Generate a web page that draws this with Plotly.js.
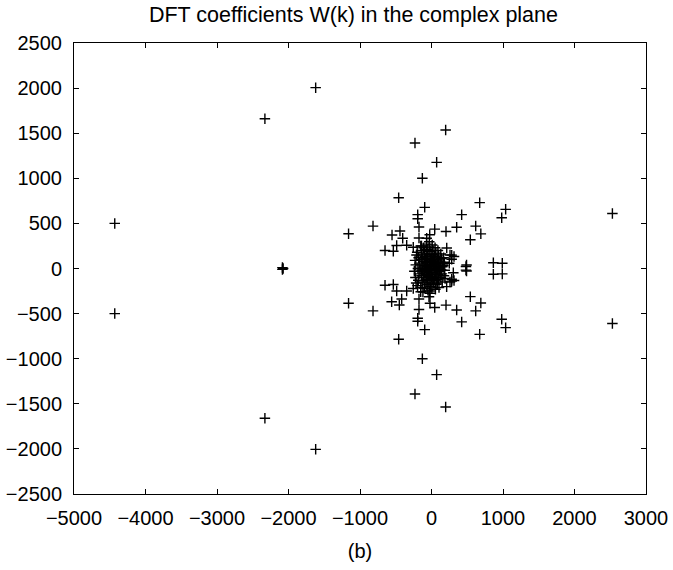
<!DOCTYPE html>
<html>
<head>
<meta charset="utf-8">
<script src="https://cdn.plot.ly/plotly-3.0.1.min.js"></script>
<style>html,body{margin:0;padding:0;background:#fff;}#chart{width:673px;height:570px;}</style>
</head>
<body>
<div id="chart"></div>
<script>
const realOuter = [-4430, -4430, -2330, -2330, -1620, -1620, -2085, -2085, -2075, -1160, -1160,
  2530, 2530, 1037, 1037, 982, 982, 865, 865, 990, 990,
  198, 198, -231, -231, 72, 72, -128, -128, -459, -459, 674, 674, -95, -95, 422, 422,
  -193, -193, -193, -193, -818, -818, -175, -175, 45, 45, 352, 352, 618, 618, 690, 690,
  203, 203, -552, -557, -441, -450, -403, -417, -175, -175, -25, -21, 543, 543,
  -487, -487, -347, -347, -650, -650, -534, -534, -255, -255, -140, -151, 213, 212,
  283, 315, 283, 315, 482, 482, 490, 490, -31, -21, -67, -35, 259, 282, 249, 305, 282, 259];
const imagOuter = [500, -500, 1660, -1660, 2005, -2005, 10, -10, 0, 385, -385,
  610, -610, 656, -656, 563, -563, 64, -64, 58, -60,
  1535, -1535, 1391, -1391, 1177, -1177, 1000, -1000, 785, -785, 730, -730, 678, -678, 597, -592,
  597, 552, -552, -585, 470, -470, 460, -455, 436, -432, 457, -460, 470, -470, 384, -382,
  410, -406, 371, -368, 415, -405, 336, -338, 338, -338, 375, -386, 318, -312,
  255, -250, 257, -250, 200, -185, 192, -178, 235, -222, 250, -257, 228, -201,
  148, 133, -140, -133, 22, -18, 39, -28, 297, -275, 335, -313, 150, 102, 58, -47, -120, -150];

const realCore = [-200, -180, -170, -190, -175, -185, -195,
  -150, -140, -135, -130, -145, -125, -140, -130, -150, -120,
  -110, -100, -95, -105, -90, -100, -95, -110, -90, -100,
  -70, -60, -65, -55, -75, -50, -60, -70, -55, -65, -50,
  -30, -20, -35, -15, -25, -10, -30, -20, -35, -15, -25,
  10, 20, 5, 25, 15, 30, 0, 20, 10, 25, 5,
  50, 60, 45, 65, 55, 70, 50, 60, 45, 65, 55,
  90, 100, 85, 105, 95, 110, 90, 100, 85, 105,
  130, 140, 125, 150, 135, 145, 130, 150,
  170, 180, 165, 185, 175, 190,
  -230, -220, -240, -225, -210, -215,
  -80, -40, 40, 80, -60, 60, -45, 35, -120, 120, 0, 0, -85, 75, -160, 160];
const imagCore = [180, 120, 60, 0, -60, -130, -190,
  250, 200, 150, 100, 40, -20, -80, -150, -210, -260,
  230, 170, 130, 80, 30, -10, -50, -100, -160, -220,
  270, 210, 160, 110, 70, 20, -30, -75, -120, -180, -240,
  240, 190, 140, 95, 45, 5, -45, -90, -135, -200, -250,
  260, 200, 155, 115, 70, 25, -20, -60, -110, -160, -215,
  230, 170, 130, 85, 40, -5, -40, -85, -130, -175, -230,
  200, 140, 100, 55, 10, -30, -70, -115, -170, -210,
  160, 110, 70, 20, -15, -60, -100, -150,
  120, 70, 30, -20, -80, -110,
  90, 40, -30, -100, 150, -160,
  0, -5, 5, -10, 60, -60, -70, 75, 15, -15, 100, -100, 110, -120, -30, 40];

const xTickVals = [-5000, -4000, -3000, -2000, -1000, 0, 1000, 2000, 3000];
const yTickVals = [-2500, -2000, -1500, -1000, -500, 0, 500, 1000, 1500, 2000, 2500];

const marker = {symbol: 'cross-thin-open', size: 7.5, color: '#000', line: {color: '#000', width: 1.4}};
const traces = [
  {x: realOuter, y: imagOuter, type: 'scatter', mode: 'markers', marker: marker, hoverinfo: 'x+y'},
  {x: realCore, y: imagCore, type: 'scatter', mode: 'markers', marker: marker, hoverinfo: 'x+y'}
];

const fontFam = 'Liberation Sans, Arial, sans-serif';
const axisCommon = {
  showline: true, linecolor: '#000', linewidth: 1, mirror: 'ticks',
  ticks: 'inside', ticklen: 5, tickcolor: '#000', tickwidth: 1,
  showgrid: false, zeroline: false,
  tickfont: {family: fontFam, size: 20, color: '#000'},
  tickmode: 'array'
};

const layout = {
  width: 673, height: 570,
  margin: {l: 74, r: 27, t: 43, b: 76},
  paper_bgcolor: '#fff', plot_bgcolor: '#fff',
  showlegend: false,
  font: {family: fontFam, color: '#000'},
  title: {text: 'DFT coefficients W(k) in the complex plane', font: {size: 21.5, color: '#000'},
          x: 0.4886, xref: 'paper', xanchor: 'center', y: 0.974, yref: 'container', yanchor: 'middle'},
  xaxis: Object.assign({}, axisCommon, {range: [-5000, 3000], tickvals: xTickVals, ticklabelstandoff: 6,
          title: {text: '(b)', font: {size: 20, color: '#000'}, standoff: 15}}),
  yaxis: Object.assign({}, axisCommon, {range: [-2500, 2500], tickvals: yTickVals, ticklabelstandoff: 7})
};

Plotly.newPlot('chart', traces, layout, {displayModeBar: false, staticPlot: true});
</script>
</body>
</html>
